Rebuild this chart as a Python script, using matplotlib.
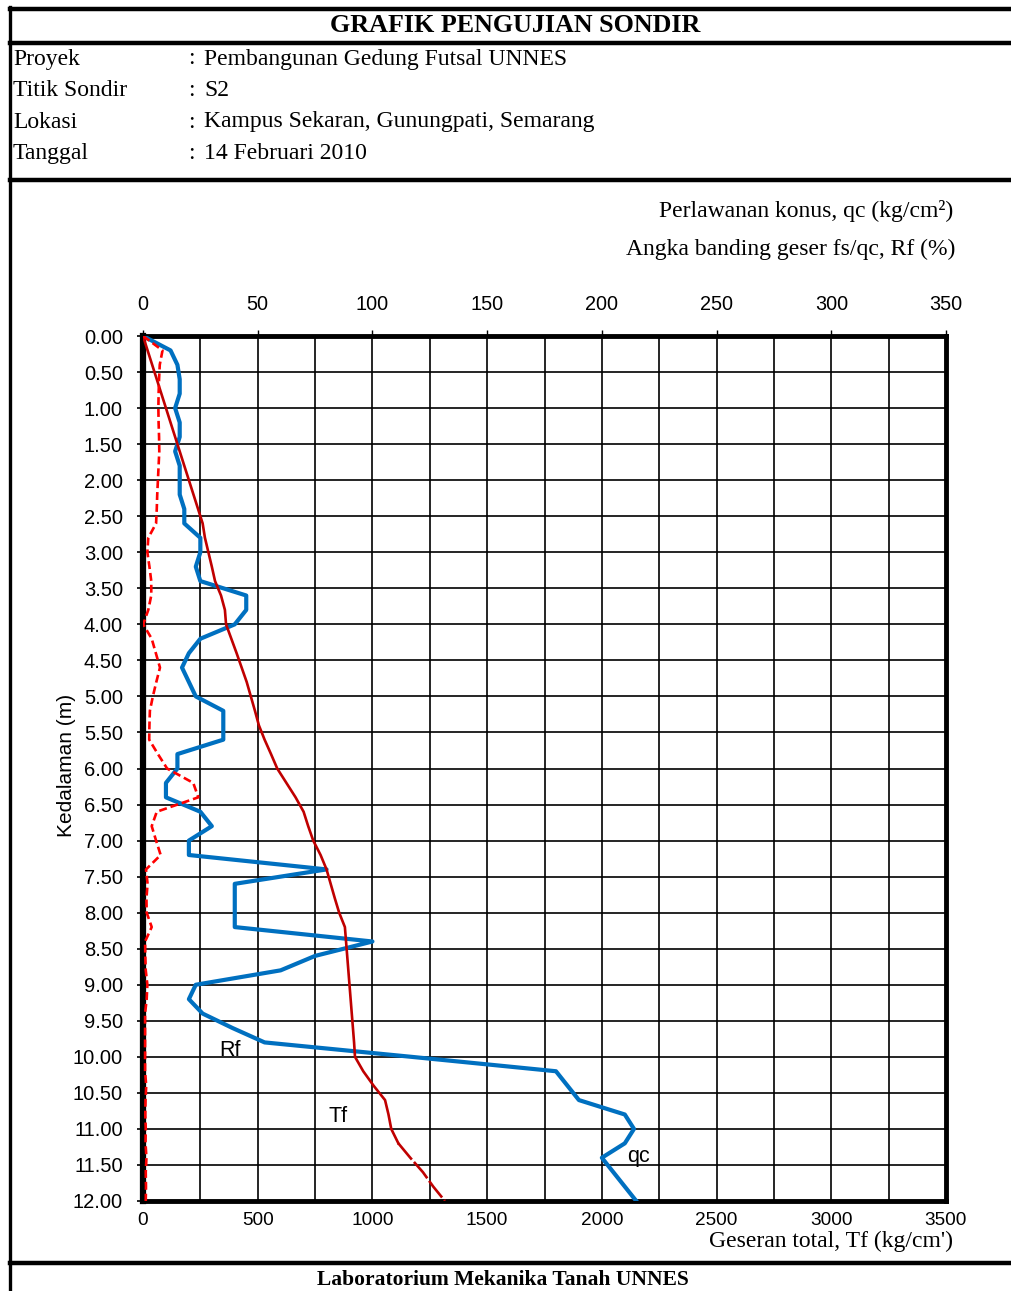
import numpy as np
import matplotlib.pyplot as plt
from matplotlib.lines import Line2D

# depth of readings (m), every 0.2 m
depth = [round(0.2 * i, 1) for i in range(61)]

# cone resistance qc (kg/cm2)
qc = [0, 12, 15, 16, 16, 14, 16, 16, 14, 16,
      16, 16, 18, 18, 25, 25, 23, 25, 45, 45,
      40, 25, 20, 17, 20, 23, 35, 35, 35, 15,
      15, 10, 10, 25, 30, 20, 20, 80, 40, 40,
      40, 40, 100, 75, 60, 23, 20, 26, 39, 53,
      117, 180, 185, 190, 210, 214, 210, 200, 205, 210,
      215]

# total friction Tf (kg/cm')
tf = [0, 20, 40, 60, 80, 100, 120, 140, 160, 180,
      200, 220, 240, 260, 270, 285, 300, 314, 340, 357,
      362, 385, 408, 430, 452, 470, 488, 505, 530, 558,
      585, 625, 665, 700, 720, 742, 774, 800, 818, 836,
      855, 880, 885, 890, 895, 900, 905, 910, 915, 920,
      924, 960, 1005, 1055, 1070, 1082, 1113, 1165, 1220, 1265,
      1316]

# friction ratio Rf (%)
rf = [0, 8.5, 7.3, 7.0, 6.8, 6.7, 6.8, 7.0, 7.1, 6.8,
      6.5, 6.2, 6.0, 5.7, 2.3, 1.9, 2.8, 3.6, 3.6, 2.3,
      0.1, 3.8, 5.6, 7.4, 5.8, 4.3, 3.0, 2.8, 2.7, 6.5,
      10.5, 21.9, 24.1, 6.0, 3.8, 5.7, 7.7, 1.3, 2.0, 1.5,
      1.6, 3.8, 0.9, 1.0, 1.2, 1.9, 1.6, 0.9, 0.9, 0.9,
      0.9, 0.9, 1.4, 1.1, 1.0, 1.2, 1.1, 1.5, 1.2, 1.3,
      1.2]

info_labels = ["Proyek", "Titik Sondir", "Lokasi", "Tanggal"]
info_values = ["Pembangunan Gedung Futsal UNNES", "S2",
               "Kampus Sekaran, Gunungpati, Semarang", "14 Februari 2010"]

W, H = 1011, 1291
serif = "Liberation Serif"
sans = "Liberation Sans"


def fx(x):
    return x / W


def fy(y):
    return 1 - y / H


fig = plt.figure(figsize=(W / 100, H / 100), dpi=100)


def hline(y, x0=10, x1=W, lw=3.2):
    fig.add_artist(Line2D([fx(x0), fx(x1)], [fy(y), fy(y)], color="black", lw=lw))


# outer frame
hline(9)
hline(43)
hline(180)
hline(1263)
fig.add_artist(Line2D([fx(10), fx(10)], [fy(7), fy(H)], color="black", lw=2.4))

fig.text(fx(515), fy(25), "GRAFIK PENGUJIAN SONDIR", family=serif, weight="bold",
         fontsize=18.7, ha="center", va="center")
for i, (lab, val) in enumerate(zip(info_labels, info_values)):
    y = fy(59 + i * 31.5)
    fig.text(fx(13), y, lab, family=serif, fontsize=17, ha="left", va="center")
    fig.text(fx(188), y, ":", family=serif, fontsize=17, ha="left", va="center")
    fig.text(fx(204), y, val, family=serif, fontsize=17, ha="left", va="center")

fig.text(fx(953), fy(211), "Perlawanan konus, qc (kg/cm²)", family=serif,
         fontsize=17, ha="right", va="center")
fig.text(fx(955), fy(249), "Angka banding geser fs/qc, Rf (%)", family=serif,
         fontsize=17, ha="right", va="center")
fig.text(fx(953), fy(1241), "Geseran total, Tf (kg/cm')", family=serif,
         fontsize=17, ha="right", va="center")
fig.text(fx(503), fy(1280), "Laboratorium Mekanika Tanah UNNES", family=serif,
         weight="bold", fontsize=15.5, ha="center", va="center")

ax = fig.add_axes([fx(143), fy(1201), fx(946) - fx(143), fy(336) - fy(1201)])

tf_u = np.array(tf) / 10
k = depth.index(11.2)
ax.plot(qc, depth, color="#0070C0", lw=3.0, zorder=3)
ax.plot(tf_u[:k + 1], depth[:k + 1], color="#C00000", lw=1.9, zorder=4)
ax.plot(tf_u[k:], depth[k:], color="#C00000", lw=1.9, ls=(0, (8, 1.2)), zorder=4)
ax.plot(rf, depth, color="#FF0000", lw=1.9, ls=(0, (3, 1.5)), zorder=5)

ax.set_xlim(0, 350)
ax.set_ylim(12, 0)
ax.xaxis.tick_top()
ax.set_xticks(np.arange(0, 351, 50))
ax.set_xticks(np.arange(0, 351, 25), minor=True)
ax.set_yticks(np.arange(0, 12.01, 0.5))
ax.set_yticklabels([f"{v:.2f}" for v in np.arange(0, 12.01, 0.5)])
ax.grid(which="both", color="black", lw=1.2)
ax.tick_params(axis="x", which="major", length=4, width=1, pad=12, labelsize=14.3)
ax.tick_params(axis="x", which="minor", length=0)
ax.tick_params(axis="y", length=4.5, width=1.2, pad=10, labelsize=14.5)
for lab in ax.get_xticklabels() + ax.get_yticklabels():
    lab.set_family(sans)
for sp in ax.spines.values():
    sp.set_linewidth(3.5)
ax.spines["left"].set_linewidth(4.5)
ax.set_ylabel("Kedalaman (m)", family=sans, fontsize=15)
ax.yaxis.set_label_coords(-0.084, 0.503)

sec = ax.secondary_xaxis("bottom", functions=(lambda x: x * 10, lambda x: x / 10))
sec.set_xticks(np.arange(0, 3501, 500))
sec.tick_params(length=0, pad=8, labelsize=13.7)
sec.spines["bottom"].set_visible(False)
for lab in sec.get_xticklabels():
    lab.set_family(sans)

ax.text(38, 9.91, "Rf", family=sans, fontsize=15.5, ha="center", va="center")
ax.text(85, 10.83, "Tf", family=sans, fontsize=15.5, ha="center", va="center")
ax.text(216, 11.38, "qc", family=sans, fontsize=15.5, ha="center", va="center")

fig.savefig("out.png", dpi=100)
